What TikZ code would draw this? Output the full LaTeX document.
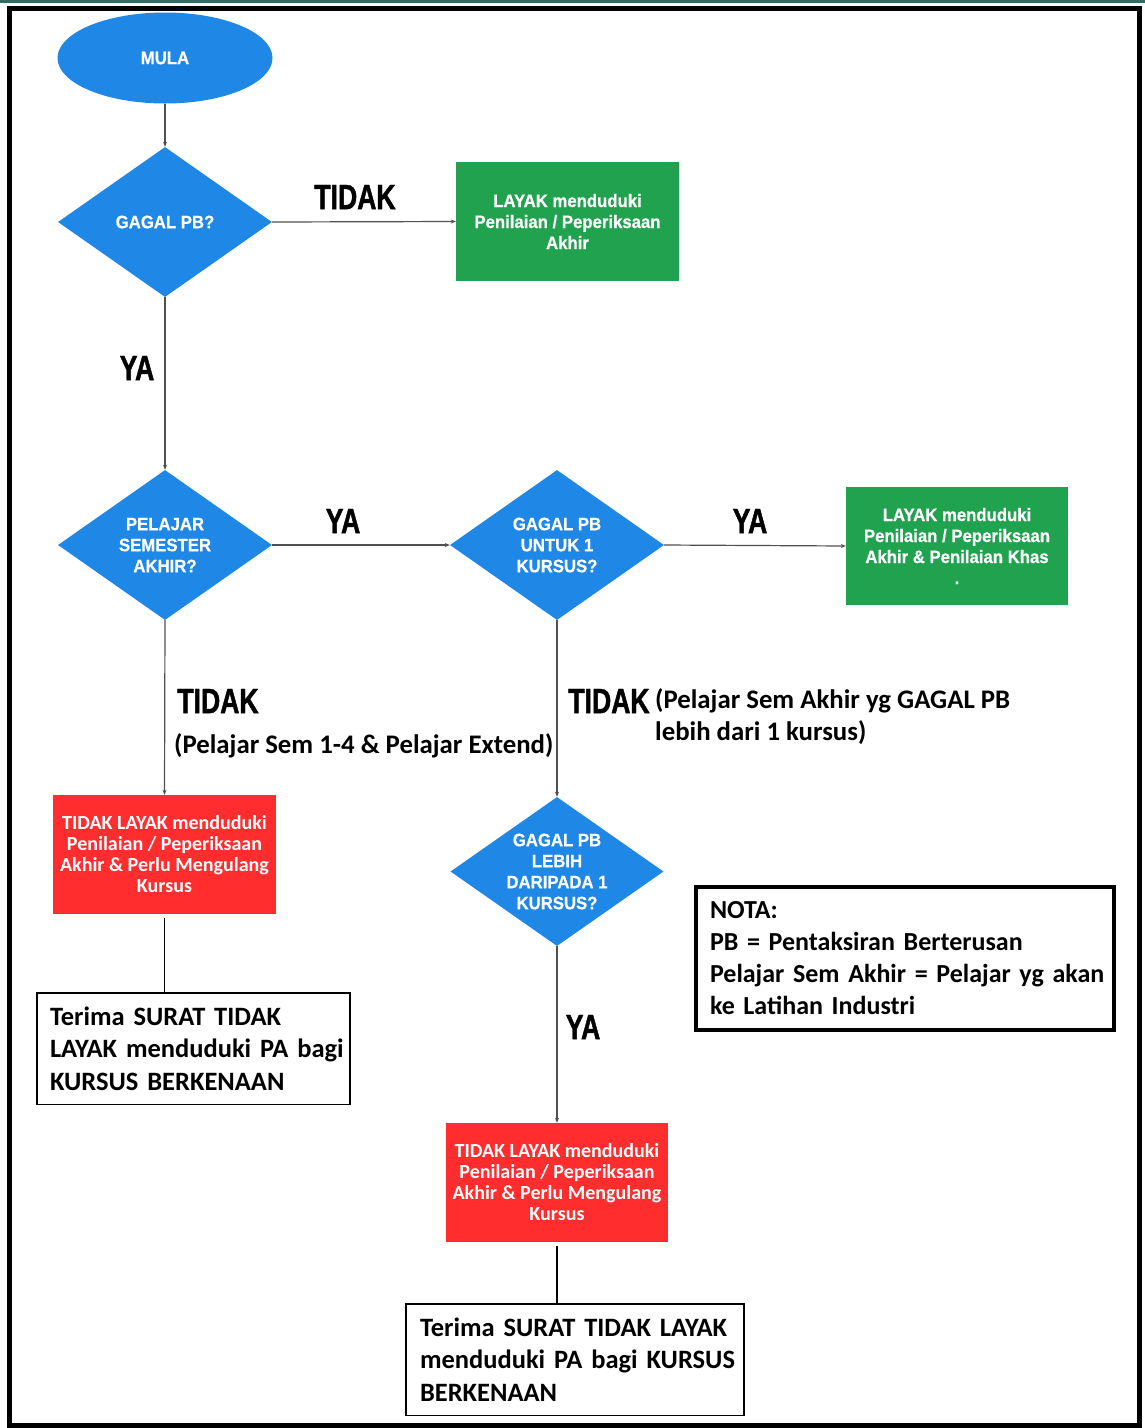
\documentclass[tikz,border=0pt]{standalone}
\usepackage{fontspec}
\usetikzlibrary{shapes.geometric,arrows.meta}
\newfontfamily\cfont{Carlito}
\newfontfamily\nfont{Liberation Sans}[FakeStretch=0.93,FakeBold=0.6]
\newfontfamily\lfont{Liberation Sans}[FakeStretch=0.76,FakeBold=1.2]
\definecolor{fblue}{HTML}{1F87E5}
\definecolor{fgreen}{HTML}{21A24F}
\definecolor{fred}{HTML}{FF2D2E}
\definecolor{topgreen}{HTML}{2E6D5F}
\definecolor{conn}{HTML}{505050}
\begin{document}
\begin{tikzpicture}[x=1pt,y=-1pt,
  decision/.style={diamond, fill=fblue, text=white, inner sep=0pt, aspect=1.4,
    minimum width=214pt, minimum height=150pt, align=center,
    font=\nfont\bfseries\fontsize{18}{21}\selectfont},
  startnode/.style={ellipse, fill=fblue, text=white, inner sep=0pt,
    minimum width=215pt, minimum height=91pt,
    font=\nfont\bfseries\fontsize{18}{21}\selectfont},
  goodbox/.style={rectangle, fill=fgreen, text=white, inner sep=0pt,
    minimum width=223pt, minimum height=119pt, align=center,
    font=\nfont\bfseries\fontsize{18}{21}\selectfont},
  badbox/.style={rectangle, fill=fred, text=white, inner sep=0pt,
    minimum width=223pt, minimum height=119pt, align=center,
    font=\cfont\bfseries\fontsize{20}{21}\selectfont},
  letterbox/.style={rectangle, draw=black, line width=1.5pt, inner ysep=0pt,
    align=left, font=\cfont\bfseries\fontsize{26.5}{32.5}\selectfont},
  notebox/.style={rectangle, draw=black, line width=4pt, inner xsep=14pt, inner ysep=0pt,
    text width=390pt, minimum height=143pt, align=left,
    font=\cfont\bfseries\fontsize{26}{32}\selectfont},
  lab/.style={inner sep=0pt, font=\lfont\bfseries\fontsize{35}{40}\selectfont},
  paren/.style={inner sep=0pt, align=left, font=\cfont\bfseries\fontsize{26.8}{32}\selectfont},
  arr/.style={draw=conn, line width=1.2pt, -{Stealth[length=5pt,width=4pt]}},
  plain/.style={draw=black, line width=1.3pt}]
\useasboundingbox (0,0) rectangle (1145,1428);
\fill[white] (0,0) rectangle (1145,1428);
\fill[topgreen] (0,0) rectangle (1145,3);
\draw[line width=5pt] (9.5,8.5) rectangle (1139.5,1425.5);

\node[startnode] (mula) at (165,58) {MULA};
\node[decision] (d1) at (165,222) {GAGAL PB?};
\node[goodbox] (g1) at (567.5,221.5) {LAYAK menduduki\\Penilaian / Peperiksaan\\Akhir};
\node[decision] (d2) at (165,545) {PELAJAR\\SEMESTER\\AKHIR?};
\node[decision] (d3) at (557,545) {GAGAL PB\\UNTUK 1\\KURSUS?};
\node[goodbox, minimum width=222pt, minimum height=118pt] (g2) at (957,546) {LAYAK menduduki\\Penilaian / Peperiksaan\\Akhir \& Penilaian Khas\\.};
\node[badbox] (r1) at (164.5,854.5) {TIDAK LAYAK menduduki\\Penilaian / Peperiksaan\\Akhir \& Perlu Mengulang\\Kursus};
\node[decision, minimum width=213pt, minimum height=149pt] (d4) at (557,871.5) {GAGAL PB\\LEBIH\\DARIPADA 1\\KURSUS?};
\node[badbox, minimum width=222pt] (r2) at (557,1182.5) {TIDAK LAYAK menduduki\\Penilaian / Peperiksaan\\Akhir \& Perlu Mengulang\\Kursus};
\node[letterbox, inner xsep=13pt, text width=287pt, minimum height=111.5pt] (t1) at (193.5,1048.5)
  {\mbox{Terima SURAT TIDAK}\\\mbox{LAYAK menduduki PA bagi}\\\mbox{KURSUS BERKENAAN}};
\node[letterbox, inner xsep=14pt, text width=310pt, minimum height=111.5pt] (t2) at (575,1359.5)
  {\mbox{Terima SURAT TIDAK LAYAK}\\\mbox{menduduki PA bagi KURSUS}\\\mbox{BERKENAAN}};
\node[notebox] (nota) at (905,958.5)
  {\mbox{NOTA:}\\\mbox{PB = Pentaksiran Berterusan}\\\mbox{Pelajar Sem Akhir = Pelajar yg akan}\\\mbox{ke Latihan Industri}};

\node[lab] (l1) at (355,197) {TIDAK};
\node[lab] (l2) at (137,368) {YA};
\node[lab] (l3) at (343,521) {YA};
\node[lab] (l4) at (750,521) {YA};
\node[lab] (l5) at (218,701) {TIDAK};
\node[paren, anchor=west] (p1) at (174,746) {(Pelajar Sem 1-4 \& Pelajar Extend)};
\node[lab] (l6) at (609,701) {TIDAK};
\node[paren, anchor=west] (p2) at (655,717) {(Pelajar Sem Akhir yg GAGAL PB\\lebih dari 1 kursus)};
\node[lab] (l7) at (583,1027) {YA};

\draw[arr] (mula) -- (d1);
\draw[arr] (d1.east) -- (g1.west);
\draw[arr] (d1.south) -- (d2.north);
\draw[arr] (d2.east) -- (d3.west);
\draw[arr] (d3.east) -- (g2.west);
\draw[arr] (d2.south) -- (r1.north);
\draw[arr] (d3.south) -- (d4.north);
\draw[arr] (d4.south) -- (r2.north);
\draw[plain, shorten <=4pt] (r1.south) -- (r1.south |- t1.north);
\draw[plain, shorten <=4pt] (r2.south) -- (r2.south |- t2.north);
\end{tikzpicture}
\end{document}
